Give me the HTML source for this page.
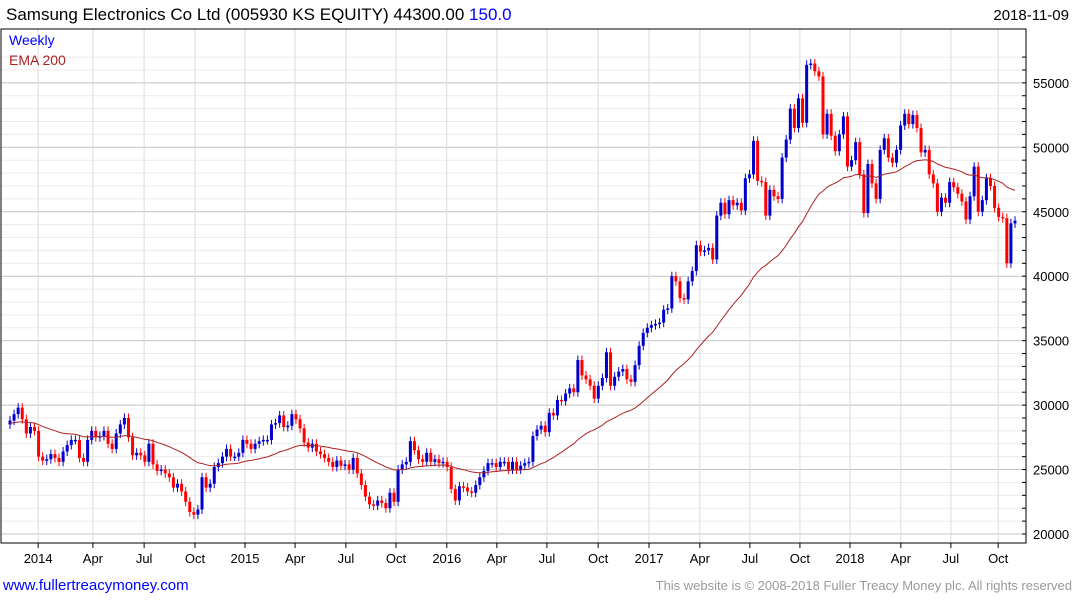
<!DOCTYPE html>
<html><head><meta charset="utf-8"><style>
body{margin:0;background:#fff;width:1075px;height:600px;overflow:hidden;font-family:"Liberation Sans",sans-serif}
svg{display:block}
</style></head><body>
<svg id="chart" width="1075" height="600">
<text x="6" y="20" font-size="17" fill="#000">Samsung Electronics Co Ltd (005930 KS EQUITY) 44300.00 <tspan fill="#0000ff">150.0</tspan></text>
<text x="1069" y="20" font-size="15" text-anchor="end" fill="#000">2018-11-09</text>
<g id="grid"></g><g id="marks"></g>
<text x="9" y="45" font-size="14" fill="#0000ff">Weekly</text>
<text x="9" y="65" font-size="14" fill="#aa2222">EMA 200</text>
<text x="3" y="590" font-size="15" fill="#0000ff">www.fullertreacymoney.com</text>
<text x="1072" y="590" font-size="13" text-anchor="end" fill="#999">This website is © 2008-2018 Fuller Treacy Money plc. All rights reserved</text>
</svg>
<script>
const closes=[28.8,29.3,29.8,28.9,27.8,28.3,28.0,26.0,25.7,25.8,26.2,25.9,25.6,26.4,26.9,27.3,27.3,25.9,25.6,27.3,28.0,27.5,27.6,28.0,27.0,26.6,27.8,28.5,29.0,27.5,26.1,26.3,26.1,25.6,27.0,25.4,24.9,25.0,24.7,24.4,23.6,23.9,23.3,22.5,21.7,21.5,21.9,24.4,23.6,23.9,25.2,25.5,26.0,26.6,26.0,26.0,26.3,27.3,27.0,26.6,27.0,27.2,27.3,27.3,28.5,28.6,29.2,28.3,28.4,29.3,28.9,28.2,27.1,26.7,27.0,26.4,26.2,25.9,25.6,25.2,25.7,25.3,25.4,25.0,25.9,24.7,23.8,22.9,22.3,22.2,22.6,22.4,22.0,23.2,22.5,25.0,25.4,25.6,27.2,26.5,25.8,25.6,26.3,25.6,25.8,25.5,25.6,25.2,23.5,22.6,23.7,23.6,23.3,23.2,23.8,24.4,24.9,25.5,25.5,25.2,25.6,25.6,25.0,25.6,25.0,25.3,25.5,25.6,27.6,28.1,28.4,27.9,29.4,29.2,30.4,30.3,30.9,31.3,31.0,33.5,32.3,32.0,31.5,30.5,31.5,32.1,34.1,31.5,32.2,32.6,32.8,32.0,31.8,33.1,34.6,35.6,36.0,36.2,36.3,36.4,37.4,37.5,40.0,39.6,38.3,38.2,39.6,40.4,42.4,41.9,42.0,42.2,41.3,44.7,45.7,44.8,45.9,45.5,45.7,45.1,47.6,47.9,50.5,47.4,47.3,44.7,46.7,46.2,46.0,49.2,50.6,53.0,51.5,53.8,51.9,56.4,56.5,55.9,55.5,51.0,52.6,50.9,49.7,51.0,52.4,48.5,49.0,50.4,47.9,44.9,48.7,47.2,46.0,49.8,50.7,49.2,48.8,49.8,51.7,52.6,51.8,52.5,51.5,49.6,49.8,47.9,47.2,45.0,46.1,45.7,47.3,46.9,46.4,45.8,44.4,46.2,48.5,45.0,45.9,47.6,47.0,45.3,44.6,44.5,41.0,44.1,44.3];
const priceTicks=[20000,25000,30000,35000,40000,45000,50000,55000];
const timeLabels=["2014","Apr","Jul","Oct","2015","Apr","Jul","Oct","2016","Apr","Jul","Oct","2017","Apr","Jul","Oct","2018","Apr","Jul","Oct"];
const timeLabelWeek=[7.2,21.2,34.3,47.3,60.1,72.9,85.9,98.7,111.7,124.5,137.3,150.4,163.4,176.4,189.2,202,214.8,227.8,240.6,252.7];
const NS="http://www.w3.org/2000/svg";
const L=1,R=1026,T=29,B=543;
const y=v=>534-(v-20000)*0.01289;
const n=closes.length;
const x=i=>10+i*(1005/(n-1));
function mk(tag,attrs,parent){const e=document.createElementNS(NS,tag);for(const k in attrs)e.setAttribute(k,attrs[k]);parent.appendChild(e);return e;}
const grid=document.getElementById('grid'),marks=document.getElementById('marks');
for(let v=19000;v<=57000;v+=1000){const yy=y(v);if(yy<T||yy>B)continue;
 const ln=mk('line',{x1:L,x2:R,y1:yy,y2:yy,stroke:v%5000==0?'#c4c4c4':'#ebebeb','stroke-width':1},grid);
 
 
 const tk=mk('line',{x1:R-4,x2:R,y1:yy,y2:yy,stroke:'#000'},grid);
 
 }
timeLabels.forEach((t,k)=>{const xx=10+timeLabelWeek[k]*1005/257;
 const ln=mk('line',{x1:xx,x2:xx,y1:T,y2:B,stroke:'#dcdcdc'},grid);
 
 
 const tk=mk('line',{x1:xx,x2:xx,y1:B,y2:B+5,stroke:'#000'},grid);
 
 
 const tx=mk('text',{x:xx,y:563,'font-size':13,'text-anchor':'middle',fill:'#000'},grid);tx.textContent=t;
 
 });
const frame=mk('rect',{x:L,y:T,width:R-L,height:B-T,fill:'none',stroke:'#000'},grid);


priceTicks.forEach(p=>{const tx=mk('text',{x:1033,y:y(p)+5,'font-size':13,fill:'#000'},grid);tx.textContent=p;
 
 });
for(let i=0;i<n;i++){const c=closes[i]*1000,o=(i?closes[i-1]:closes[0]-0.3)*1000;
 const hi=Math.max(o,c)+350,lo=Math.min(o,c)-350,col=c>=o?'#0000cc':'#ff0000',xx=x(i);
 const g=mk('g',{},marks);
 
 
 mk('line',{x1:xx,x2:xx,y1:y(hi),y2:y(lo),stroke:col,'stroke-width':1},g);
 const top=y(Math.max(o,c)),h=Math.max(1.5,y(Math.min(o,c))-top);
 mk('rect',{x:xx-1.5,y:top,width:3,height:h,fill:col},g);}
let e=28.6,pts=[];const a=2/41;
for(let i=0;i<n;i++){e=i?e+a*(closes[i]-e):e;pts.push(x(i).toFixed(1)+','+y(e*1000).toFixed(1));}
const pl=mk('polyline',{points:pts.join(' '),fill:'none',stroke:'#aa2222','stroke-width':1},marks);


</script>
</body></html>
